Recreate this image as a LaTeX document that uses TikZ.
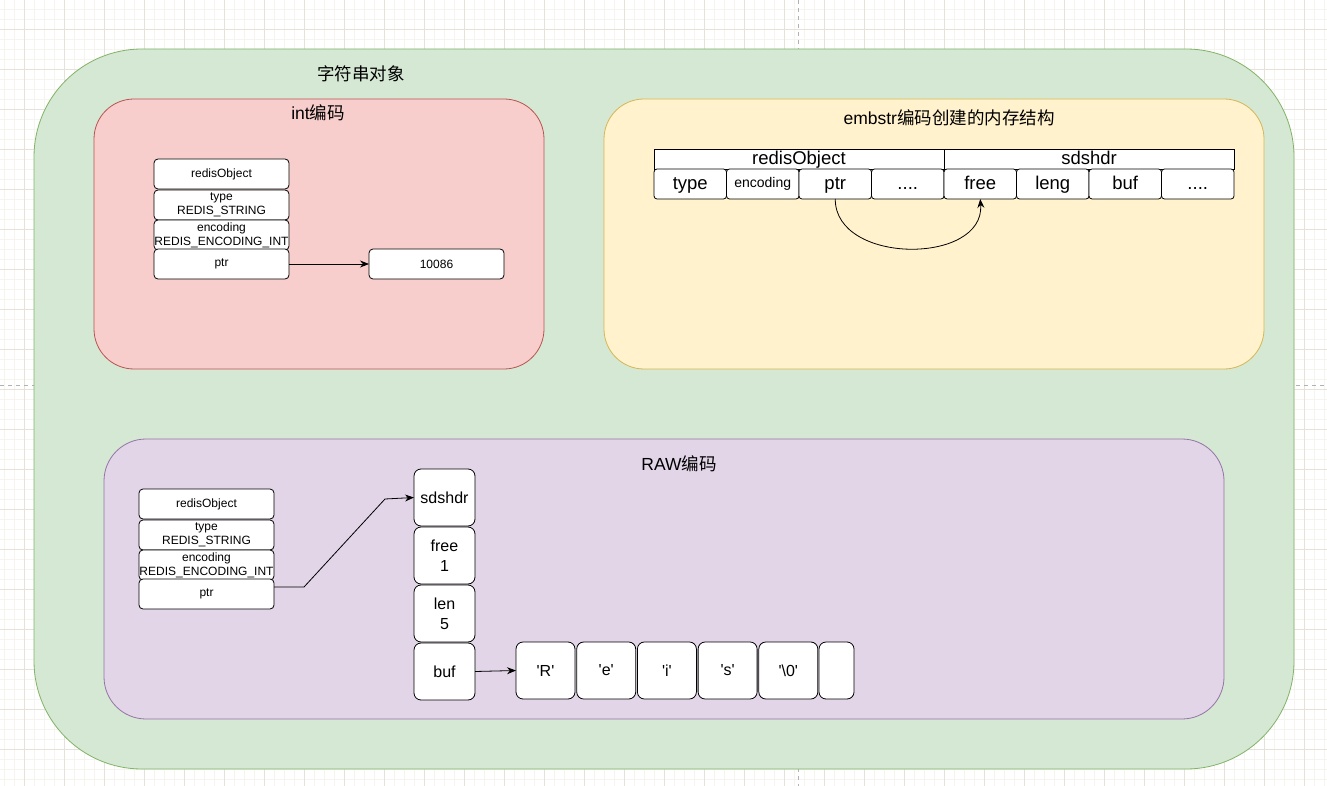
\documentclass[tikz,border=0pt]{standalone}
\usepackage{fontspec}
\setmainfont{Liberation Sans}
\newfontfamily\cjk{Noto Sans CJK SC}
\usetikzlibrary{arrows.meta}
\definecolor{grfill}{HTML}{D5E8D4}
\definecolor{grline}{HTML}{82B366}
\definecolor{rdfill}{HTML}{F8CECC}
\definecolor{rdline}{HTML}{B85450}
\definecolor{ylfill}{HTML}{FFF2CC}
\definecolor{ylline}{HTML}{D6B656}
\definecolor{pufill}{HTML}{E1D5E7}
\definecolor{puline}{HTML}{9673A6}
\definecolor{gridminor}{HTML}{F6F4EF}
\definecolor{gridmajor}{HTML}{E6E2DA}
\newcommand{\sq}{\textquotesingle}
\begin{document}
\begin{tikzpicture}[x=1pt,y=-1pt,
  container/.style={draw, line width=0.8pt, inner sep=0pt, outer sep=0pt},
  title/.style={font=\fontsize{17.5}{20}\selectfont, inner sep=0pt},
  cell/.style={draw=black, fill=white, line width=0.8pt, rounded corners=4pt, inner sep=0pt, outer sep=0pt,
    align=center, font=\fontsize{12}{14}\selectfont, minimum width=135pt, minimum height=30pt},
  ecell/.style={draw=black, fill=white, line width=0.8pt, rounded corners=3pt, inner sep=0pt, outer sep=0pt,
    font=\fontsize{18.5}{21}\selectfont, text height=14pt, text depth=3pt, minimum width=72.5pt, minimum height=30pt},
  ehead/.style={draw=black, fill=white, line width=0.8pt, inner sep=0pt, outer sep=0pt,
    font=\fontsize{18.5}{21}\selectfont, text height=14pt, text depth=2pt, minimum width=290pt, minimum height=20pt},
  bcell/.style={draw=black, fill=white, line width=0.8pt, rounded corners=7pt, inner sep=0pt, outer sep=0pt,
    align=center, font=\fontsize{16}{20}\selectfont, minimum width=61pt, minimum height=57pt},
  acell/.style={bcell, minimum width=59pt},
  arr/.style={line width=0.8pt, -{Stealth[length=9pt,width=7pt]}}
]
\useasboundingbox (0,0) rectangle (1327,786);
\fill[white] (0,0) rectangle (1327,786);
% grid
\foreach \x in {4,14,...,1324} \draw[gridminor, line width=0.6pt] (\x,0) -- (\x,786);
\foreach \y in {9,19,...,779} \draw[gridminor, line width=0.6pt] (0,\y) -- (1327,\y);
\foreach \x in {24,64,...,1304} \draw[gridmajor, line width=0.8pt] (\x,0) -- (\x,786);
\foreach \y in {29,69,...,749} \draw[gridmajor, line width=0.8pt] (0,\y) -- (1327,\y);
\draw[gray!60, dash pattern=on 4pt off 4pt, line width=0.8pt] (798,0) -- (798,786);
\draw[gray!60, dash pattern=on 4pt off 4pt, line width=0.8pt] (0,385) -- (1327,385);

% containers
\node[container, fill=grfill, draw=grline, minimum width=1260pt, minimum height=720pt, rounded corners=108pt] (outer) at (664,409) {};
\node[container, fill=rdfill, draw=rdline, minimum width=450pt, minimum height=270pt, rounded corners=40pt] (intbox) at (319,234) {};
\node[container, fill=ylfill, draw=ylline, minimum width=660pt, minimum height=270pt, rounded corners=40pt] (embbox) at (934,234) {};
\node[container, fill=pufill, draw=puline, minimum width=1120pt, minimum height=280pt, rounded corners=42pt] (rawbox) at (664,579) {};

\node[title] (touter) at (361,74) {\cjk 字符串对象};
\node[title] (tint) at (318,113) {int{\cjk 编码}};
\node[title] (temb) at (949,118) {embstr{\cjk 编码创建的内存结构}};
\node[title] (traw) at (679,464) {RAW{\cjk 编码}};

% int encoding
\node[cell] (iro) at (221.5,174) {redisObject};
\node[cell] (itype) at (221.5,205) {type\\REDIS\_STRING};
\node[cell, minimum height=30pt] (ienc) at (221.5,235) {encoding\\REDIS\_ENCODING\_INT};
\node[cell] (iptr) at (221.5,264) {ptr};
\node[cell] (ival) at (436.5,264) {10086};
\draw[arr] (iptr.east) -- (ival.west);

% embstr
\node[ehead] (ero) at (799,159) {redisObject};
\node[ehead] (esds) at (1089,159) {sdshdr};
\node[ecell] (etype) at (690.25,184) {type};
\node[ecell, font=\fontsize{14}{16}\selectfont, text height=11pt, text depth=3pt] (eenc) at (762.75,184) {encoding};
\node[ecell] (eptr) at (835.25,184) {ptr};
\node[ecell] (edots1) at (907.75,184) {....};
\node[ecell] (efree) at (980.25,184) {free};
\node[ecell] (eleng) at (1052.75,184) {leng};
\node[ecell] (ebuf) at (1125.25,184) {buf};
\node[ecell] (edots2) at (1197.75,184) {....};
\draw[arr] (eptr.south) .. controls (835,265) and (985,265) .. (efree.south);

% raw
\node[cell] (rro) at (206.5,504) {redisObject};
\node[cell] (rtype) at (206.5,535) {type\\REDIS\_STRING};
\node[cell] (renc) at (206.5,565) {encoding\\REDIS\_ENCODING\_INT};
\node[cell] (rptr) at (206.5,594) {ptr};
\node[bcell] (rsds) at (444.5,497.5) {sdshdr};
\node[bcell] (rfree) at (444.5,555.5) {free\\1};
\node[bcell] (rlen) at (444.5,613.5) {len\\5};
\node[bcell] (rbuf) at (444.5,671.5) {buf};
\node[acell] (c1) at (545.5,670.5) {\sq R\sq};
\node[acell] (c2) at (606.2,670.5) {\sq e\sq};
\node[acell] (c3) at (666.9,670.5) {\sq i\sq};
\node[acell] (c4) at (727.6,670.5) {\sq s\sq};
\node[acell] (c5) at (788.3,670.5) {\sq\textbackslash0\sq};
\node[acell, minimum width=35pt] (c6) at (836.5,670.5) {};
\coordinate (k1) at (304,587);
\coordinate (k2) at (385,499);
\draw[arr] ([yshift=7pt]rptr.east) -- (k1) -- (k2) -- (rsds.west);
\draw[arr] (rbuf.east) -- (c1.west);
\end{tikzpicture}
\end{document}
